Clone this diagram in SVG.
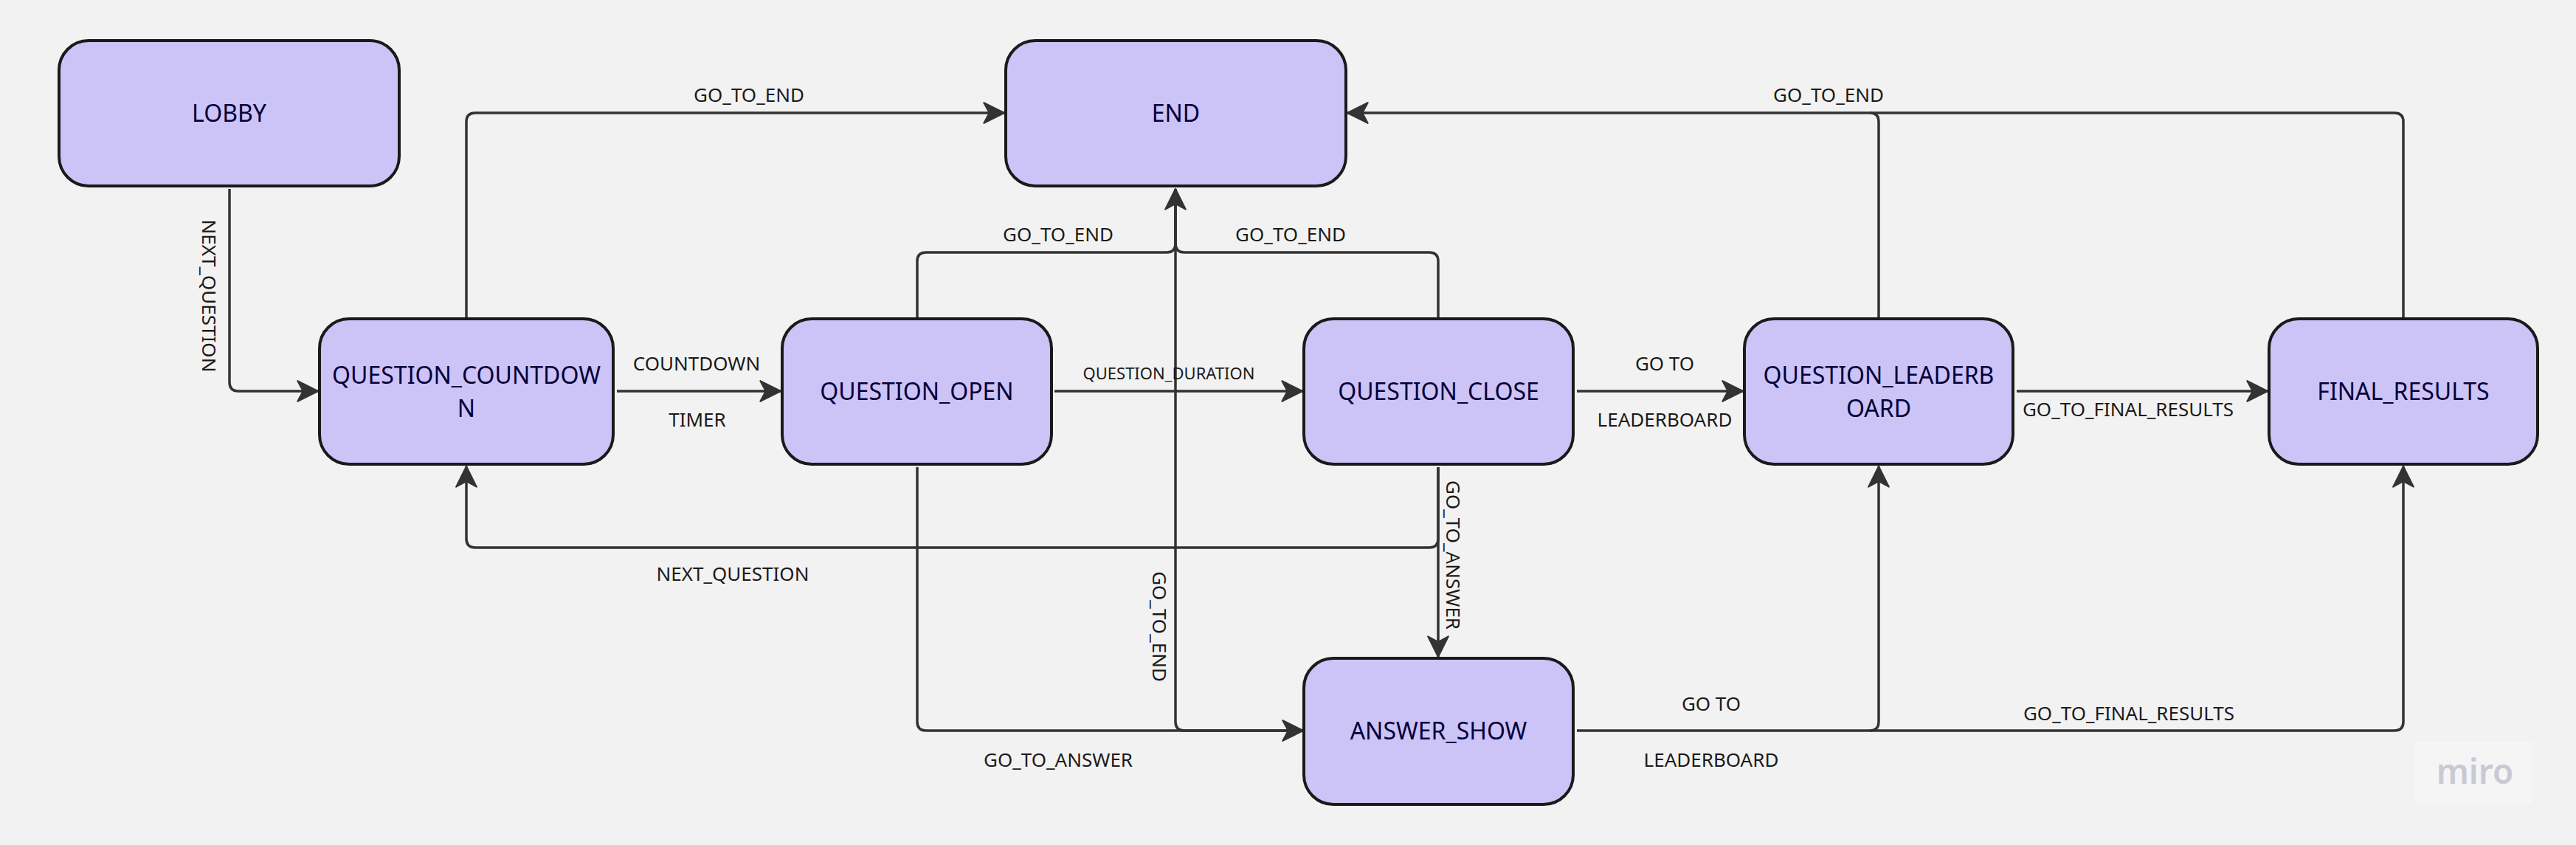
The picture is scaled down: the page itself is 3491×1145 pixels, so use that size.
<svg xmlns="http://www.w3.org/2000/svg" width="3491" height="1145" viewBox="0 0 3491 1145">
<style>
.node rect{fill:#ccc3f7;stroke:#1a1a1a;stroke-width:4}
.node text{font-family:"Noto Sans","Open Sans",sans-serif;font-size:32px;fill:#050038;text-anchor:middle}
.edges path{fill:none;stroke:#333;stroke-width:3.5}
.lbl{font-family:"Noto Sans","Open Sans",sans-serif;font-size:26px;fill:#1a1a1a;text-anchor:middle}
.sm{font-size:22px}
</style>
<defs>
<marker id="arr" markerUnits="userSpaceOnUse" markerWidth="34" markerHeight="34" viewBox="-2 -2 32 32" refX="27" refY="14" orient="auto">
<path d="M1,1 L27,14 L1,27 L8,14 Z" fill="#333" stroke="#333" stroke-width="2" stroke-linejoin="round"/>
</marker>
</defs>
<rect width="3491" height="1145" fill="#f2f2f2"/>
<g class="edges">
<path d="M311,256 V518 Q311,530 323,530 H431" marker-end="url(#arr)"/>
<path d="M632,430 V165 Q632,153 644,153 H1361" marker-end="url(#arr)"/>
<path d="M836,530 H1058" marker-end="url(#arr)"/>
<path d="M1429,530 H1765" marker-end="url(#arr)"/>
<path d="M2137,530 H2362" marker-end="url(#arr)"/>
<path d="M2733,530 H3073" marker-end="url(#arr)"/>
<path d="M1243,430 V354 Q1243,342 1255,342 H1581 Q1593,342 1593,330 V256" marker-end="url(#arr)"/>
<path d="M1949,430 V354 Q1949,342 1937,342 H1605 Q1593,342 1593,330 V256"/>
<path d="M1766,990 H1605 Q1593,990 1593,978 V256"/>
<path d="M1243,633 V978 Q1243,990 1255,990 H1766" marker-end="url(#arr)"/>
<path d="M1949,633 V890" marker-end="url(#arr)"/>
<path d="M1949,633 V730 Q1949,742 1937,742 H644 Q632,742 632,730 V632" marker-end="url(#arr)"/>
<path d="M2546,430 V165 Q2546,153 2534,153 H1826" marker-end="url(#arr)"/>
<path d="M3257,430 V165 Q3257,153 3245,153 H2534"/>
<path d="M2137,990 H2534 Q2546,990 2546,978 V632" marker-end="url(#arr)"/>
<path d="M2534,990 H3245 Q3257,990 3257,978 V632" marker-end="url(#arr)"/>
</g>
<g id="labels">
<text class="lbl" transform="translate(283,401) rotate(90)" dy="9">NEXT_QUESTION</text>
<text class="lbl" x="1015" y="138">GO_TO_END</text>
<text class="lbl" x="944" y="502">COUNTDOWN</text>
<text class="lbl" x="945" y="578">TIMER</text>
<text class="lbl sm" x="1584" y="514">QUESTION_DURATION</text>
<text class="lbl" x="1434" y="327">GO_TO_END</text>
<text class="lbl" x="1749" y="327">GO_TO_END</text>
<text class="lbl" x="2478" y="138">GO_TO_END</text>
<text class="lbl" x="2256" y="502">GO TO</text>
<text class="lbl" x="2256" y="578">LEADERBOARD</text>
<text class="lbl" x="2884" y="564">GO_TO_FINAL_RESULTS</text>
<text class="lbl" x="993" y="787">NEXT_QUESTION</text>
<text class="lbl" x="1434" y="1039">GO_TO_ANSWER</text>
<text class="lbl" transform="translate(1969,752) rotate(90)" dy="9">GO_TO_ANSWER</text>
<text class="lbl" transform="translate(1571,849) rotate(90)" dy="9">GO_TO_END</text>
<text class="lbl" x="2319" y="963">GO TO</text>
<text class="lbl" x="2319" y="1039">LEADERBOARD</text>
<text class="lbl" x="2885" y="976">GO_TO_FINAL_RESULTS</text>
</g>
<g id="lobby" class="node"><rect x="80" y="55" width="461" height="197" rx="40"/><text x="310.5" y="165">LOBBY</text></g>
<g id="end" class="node"><rect x="1363" y="55" width="461" height="197" rx="40"/><text x="1593.5" y="165">END</text></g>
<g id="question_countdown" class="node"><rect x="433" y="432" width="398" height="197" rx="40"/><text x="632" y="520">QUESTION_COUNTDOW</text><text x="632" y="565">N</text></g>
<g id="question_open" class="node"><rect x="1060" y="432" width="365" height="197" rx="40"/><text x="1242.5" y="542">QUESTION_OPEN</text></g>
<g id="question_close" class="node"><rect x="1767" y="432" width="365" height="197" rx="40"/><text x="1949.5" y="542">QUESTION_CLOSE</text></g>
<g id="question_leaderboard" class="node"><rect x="2364" y="432" width="364" height="197" rx="40"/><text x="2546" y="520">QUESTION_LEADERB</text><text x="2546" y="565">OARD</text></g>
<g id="final_results" class="node"><rect x="3075" y="432" width="364" height="197" rx="40"/><text x="3257" y="542">FINAL_RESULTS</text></g>
<g id="answer_show" class="node"><rect x="1767" y="892" width="365" height="198" rx="40"/><text x="1949.5" y="1002">ANSWER_SHOW</text></g>
<g id="watermark"><rect x="3273" y="1005" width="159" height="84" fill="#f5f5f6"/><text x="3354" y="1062" font-family="Noto Sans, sans-serif" font-size="46" font-weight="600" fill="#c9c9d4" text-anchor="middle">miro</text></g>
</svg>
